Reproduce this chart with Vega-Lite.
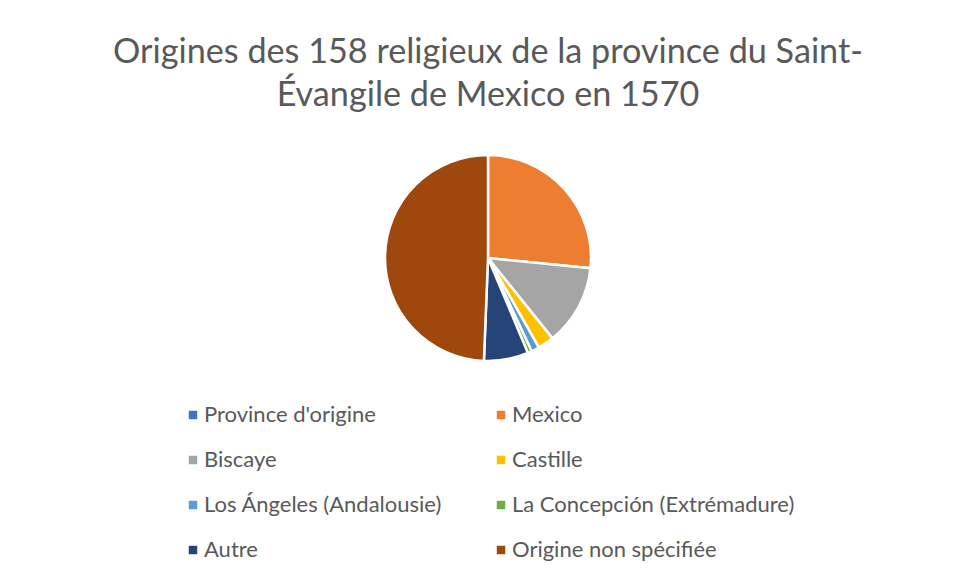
{
  "$schema": "https://vega.github.io/schema/vega-lite/v6.json",
  "autosize": {"type": "none"},
  "padding": {"left": 8, "top": 8, "right": 0, "bottom": 80},
  "width": 960,
  "height": 500,
  "background": "white",
  "config": {"view": {"stroke": null}},
  "title": {
    "text": ["Origines des 158 religieux de la province du Saint-", "Évangile de Mexico en 1570"],
    "font": "Lato",
    "fontSize": 34.2,
    "fontWeight": "normal",
    "color": "#595959",
    "anchor": "middle",
    "frame": "group",
    "orient": "top",
    "lineHeight": 43,
    "offset": -105
  },
  "data": {
    "values": [
      {"origine": "Province d'origine", "n": 0, "ordre": 1},
      {"origine": "Mexico", "n": 42, "ordre": 2},
      {"origine": "Biscaye", "n": 20, "ordre": 3},
      {"origine": "Castille", "n": 4, "ordre": 4},
      {"origine": "Los Ángeles (Andalousie)", "n": 2, "ordre": 5},
      {"origine": "La Concepción (Extrémadure)", "n": 1, "ordre": 6},
      {"origine": "Autre", "n": 11, "ordre": 7},
      {"origine": "Origine non spécifiée", "n": 78, "ordre": 8}
    ]
  },
  "mark": {"type": "arc", "outerRadius": 103, "stroke": "white", "strokeWidth": 2.5},
  "encoding": {
    "theta": {"field": "n", "type": "quantitative", "stack": true},
    "order": {"field": "ordre", "type": "quantitative"},
    "color": {
      "field": "origine",
      "type": "nominal",
      "sort": null,
      "scale": {
        "domain": ["Province d'origine", "Biscaye", "Los Ángeles (Andalousie)", "Autre", "Mexico", "Castille", "La Concepción (Extrémadure)", "Origine non spécifiée"],
        "range": ["#4472C4", "#A5A5A5", "#5B9BD5", "#264478", "#ED7D31", "#FFC000", "#70AD47", "#9E480E"]
      },
      "legend": {
        "title": null,
        "orient": "none",
        "legendX": 174,
        "legendY": 396,
        "columns": 2,
        "columnPadding": 47,
        "rowPadding": 23,
        "padding": 0,
        "symbolType": "square",
        "symbolSize": 72,
        "symbolStrokeWidth": 0,
        "labelFont": "Lato",
        "labelFontSize": 22,
        "labelColor": "#595959",
        "labelOffset": 0,
        "labelLimit": 400
      }
    }
  }
}
